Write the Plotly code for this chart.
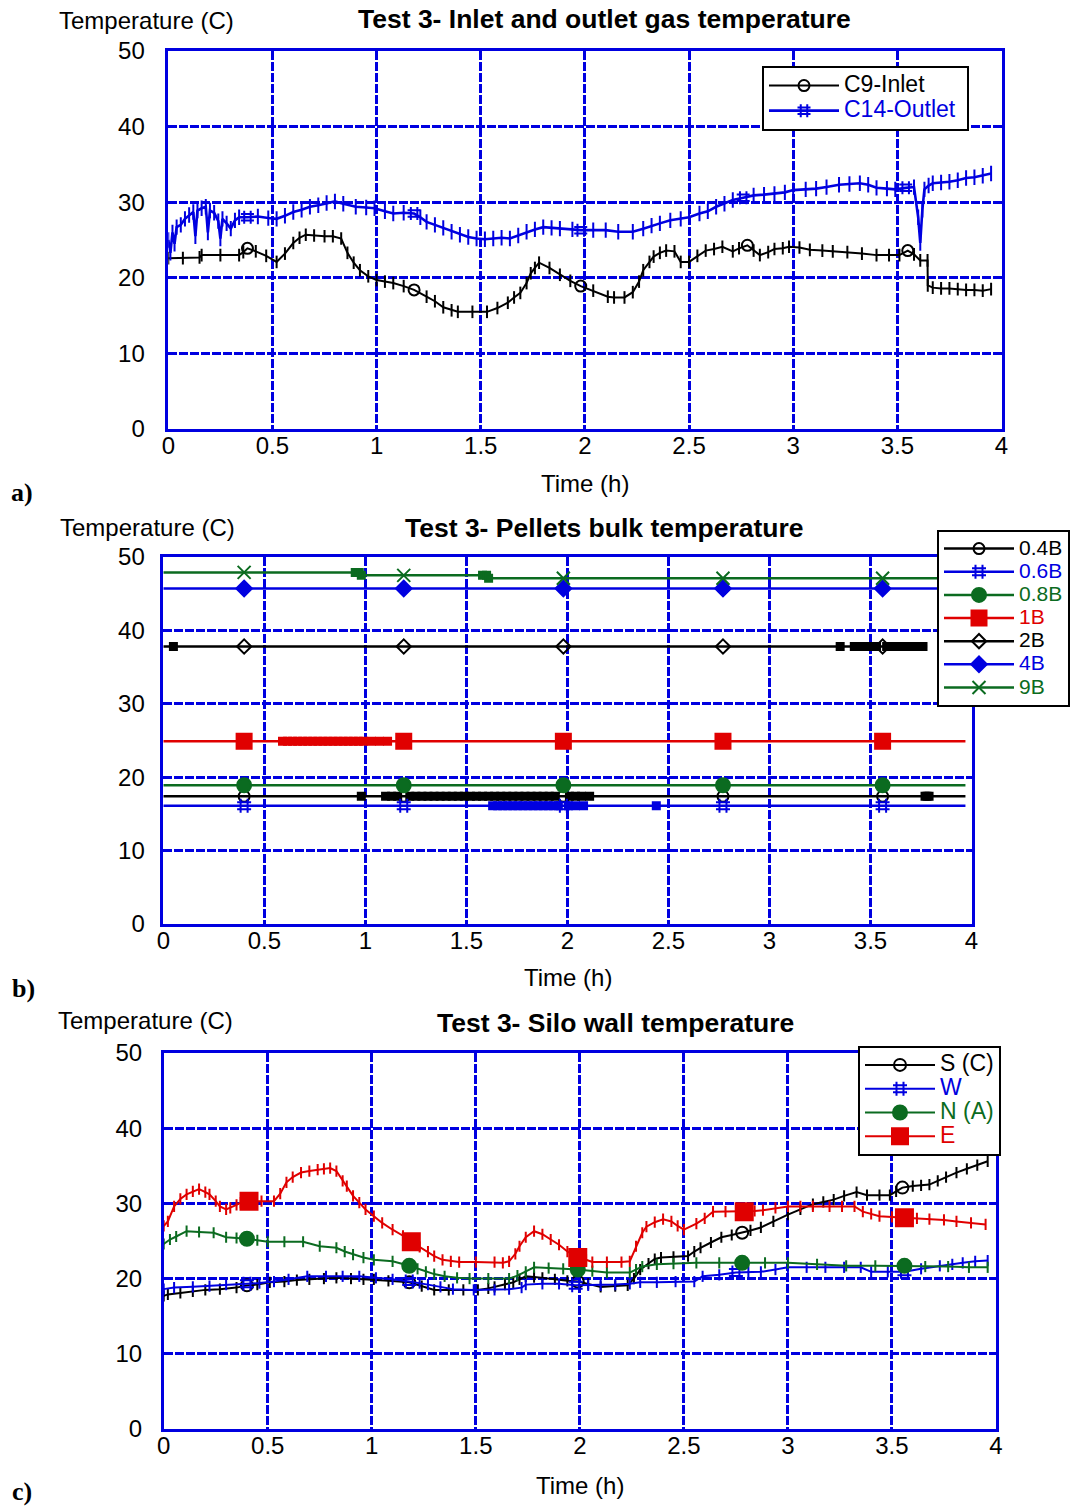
import plotly.graph_objects as go

W, H = 1077, 1508
BLUE = "#0000e0"
BLACK = "#000000"
GREEN = "#0b6b20"
RED = "#e00000"
FONT = "Arial, 'Liberation Sans', Helvetica, sans-serif"
SERIF = "'Times New Roman', 'Liberation Serif', serif"

# ---------------- a) inlet / outlet gas temperature ----------------
C9_T = [0.00, 0.07, 0.15, 0.16, 0.25, 0.34, 0.36, 0.38, 0.42, 0.47,
        0.52, 0.56, 0.60, 0.63, 0.66, 0.70, 0.75, 0.79, 0.83, 0.86,
        0.89, 0.92, 0.96, 1.00, 1.04, 1.08, 1.13, 1.18, 1.24, 1.28,
        1.32, 1.36, 1.39, 1.46, 1.53, 1.58, 1.63, 1.66, 1.69, 1.72,
        1.74, 1.76, 1.78, 1.83, 1.88, 1.93, 1.98, 2.04, 2.11, 2.14,
        2.19, 2.23, 2.26, 2.28, 2.31, 2.33, 2.36, 2.39, 2.43, 2.46,
        2.50, 2.54, 2.58, 2.62, 2.66, 2.71, 2.74, 2.78, 2.81, 2.84,
        2.88, 2.91, 2.95, 2.98, 3.03, 3.08, 3.14, 3.19, 3.26, 3.33,
        3.40, 3.46, 3.51, 3.55, 3.58, 3.61, 3.645, 3.646, 3.67, 3.71,
        3.75, 3.79, 3.83, 3.87, 3.91, 3.95]
C9_V = [22.6, 22.6, 22.7, 23.0, 23.0, 23.0, 23.4, 23.9, 23.5, 22.9,
        22.1, 23.2, 24.6, 25.3, 25.7, 25.6, 25.5, 25.5, 25.2, 23.3,
        22.0, 21.0, 20.2, 19.7, 19.5, 19.3, 18.9, 18.4, 17.5, 16.9,
        16.1, 15.7, 15.5, 15.5, 15.5, 16.0, 16.7, 17.4, 18.0, 19.3,
        20.6, 21.3, 22.0, 21.3, 20.4, 19.6, 18.9, 18.3, 17.5, 17.4,
        17.4, 18.1, 19.5, 21.0, 22.1, 22.8, 23.3, 23.6, 23.5, 22.1,
        22.1, 22.9, 23.6, 23.8, 24.1, 23.5, 23.9, 24.3, 23.6, 23.0,
        23.4, 23.8, 23.9, 24.1, 24.0, 23.7, 23.6, 23.5, 23.4, 23.2,
        23.0, 23.0, 23.0, 23.6, 23.1, 22.3, 22.3, 19.0, 18.7, 18.6,
        18.6, 18.5, 18.4, 18.4, 18.3, 18.5]

C14_T = [0.00, 0.01, 0.02, 0.03, 0.04, 0.06, 0.08, 0.10, 0.12, 0.13,
         0.14, 0.16, 0.18, 0.19, 0.20, 0.22, 0.24, 0.25, 0.26, 0.28,
         0.30, 0.32, 0.34, 0.38, 0.43, 0.48, 0.52, 0.56, 0.60, 0.64,
         0.68, 0.72, 0.76, 0.80, 0.84, 0.90, 0.95, 0.99, 1.04, 1.08,
         1.13, 1.18, 1.21, 1.24, 1.28, 1.32, 1.36, 1.40, 1.44, 1.48,
         1.52, 1.56, 1.60, 1.64, 1.68, 1.72, 1.76, 1.80, 1.84, 1.88,
         1.94, 1.98, 2.04, 2.10, 2.16, 2.23, 2.28, 2.32, 2.36, 2.41,
         2.46, 2.50, 2.55, 2.59, 2.63, 2.67, 2.71, 2.76, 2.81, 2.86,
         2.91, 2.96, 3.00, 3.06, 3.11, 3.16, 3.22, 3.27, 3.32, 3.36,
         3.40, 3.45, 3.49, 3.54, 3.58, 3.60, 3.61, 3.62, 3.63, 3.65,
         3.67, 3.71, 3.75, 3.79, 3.83, 3.87, 3.91, 3.95]
C14_V = [25.0, 23.3, 26.0, 24.5, 26.7, 27.0, 27.8, 28.3, 28.7, 25.5,
         28.9, 29.2, 29.4, 26.0, 28.9, 28.6, 27.5, 25.2, 27.8, 27.2,
         26.5, 27.6, 28.0, 28.0, 28.1, 27.9, 27.8, 28.2, 28.7, 29.0,
         29.4, 29.6, 29.9, 30.1, 29.8, 29.4, 29.3, 29.2, 28.8, 28.5,
         28.6, 28.5, 28.0, 27.4, 27.0, 26.6, 26.1, 25.7, 25.4, 25.2,
         25.1, 25.2, 25.3, 25.2, 25.6, 26.1, 26.4, 26.7, 26.6, 26.5,
         26.4, 26.3, 26.3, 26.3, 26.1, 26.1, 26.5, 26.9, 27.2, 27.6,
         27.8, 28.0, 28.5, 28.8, 29.4, 29.8, 30.3, 30.6, 30.9, 31.0,
         31.1, 31.3, 31.6, 31.7, 31.8, 32.0, 32.3, 32.4, 32.5, 32.3,
         31.9, 31.8, 31.7, 31.9, 32.0, 28.0, 24.6, 29.0, 31.7, 32.2,
         32.5, 32.6, 32.7, 32.9, 33.2, 33.3, 33.5, 33.8]

# ---------------- b) pellets bulk temperature ----------------
B04_T = [0.00, 0.40, 0.98, 1.10, 1.13, 1.16, 1.19, 1.22, 1.25, 1.28,
         1.31, 1.34, 1.37, 1.40, 1.43, 1.46, 1.49, 1.52, 1.55, 1.58,
         1.61, 1.64, 1.67, 1.70, 1.73, 1.76, 1.79, 1.82, 1.85, 1.88,
         1.91, 1.94, 1.98, 2.01, 2.04, 2.07, 2.11, 2.77, 3.56, 3.77,
         3.78, 3.79, 3.97]
B04_V = [17.4, 17.4, 17.4, 17.4, 17.4, 17.4, 17.4, 17.4, 17.4, 17.4,
         17.4, 17.4, 17.4, 17.4, 17.4, 17.4, 17.4, 17.4, 17.4, 17.4,
         17.4, 17.4, 17.4, 17.4, 17.4, 17.4, 17.4, 17.4, 17.4, 17.4,
         17.4, 17.4, 17.4, 17.4, 17.4, 17.4, 17.4, 17.4, 17.4, 17.4,
         17.4, 17.4, 17.4]

B06_T = [0.00, 0.40, 1.19, 1.63, 1.655, 1.68, 1.705, 1.73, 1.755, 1.78,
         1.805, 1.83, 1.855, 1.88, 1.905, 1.93, 1.955, 1.98, 2.005, 2.04,
         2.08, 2.44, 2.77, 3.56, 3.97]
B06_V = [16.1, 16.1, 16.1, 16.1, 16.1, 16.1, 16.1, 16.1, 16.1, 16.1,
         16.1, 16.1, 16.1, 16.1, 16.1, 16.1, 16.1, 16.1, 16.1, 16.1,
         16.1, 16.1, 16.1, 16.1, 16.1]

B08_T = [0.00, 0.40, 1.19, 1.98, 2.77, 3.56, 3.97]
B08_V = [18.9, 18.9, 18.9, 18.9, 18.9, 18.9, 18.9]

B1_T = [0.00, 0.40, 0.59, 0.615, 0.64, 0.665, 0.69, 0.715, 0.74, 0.765,
        0.79, 0.815, 0.84, 0.865, 0.89, 0.915, 0.94, 0.965, 0.99, 1.03,
        1.07, 1.11, 1.19, 1.98, 2.77, 3.56, 3.97]
B1_V = [24.9, 24.9, 24.9, 24.9, 24.9, 24.9, 24.9, 24.9, 24.9, 24.9,
        24.9, 24.9, 24.9, 24.9, 24.9, 24.9, 24.9, 24.9, 24.9, 24.9,
        24.9, 24.9, 24.9, 24.9, 24.9, 24.9, 24.9]

B2_T = [0.00, 0.05, 0.40, 1.19, 1.98, 2.77, 3.35, 3.42, 3.46, 3.49,
        3.51, 3.53, 3.56, 3.58, 3.60, 3.62, 3.64, 3.66, 3.68, 3.70,
        3.72, 3.74, 3.76, 3.78]
B2_V = [37.8, 37.8, 37.8, 37.8, 37.8, 37.8, 37.8, 37.8, 37.8, 37.8,
        37.8, 37.8, 37.8, 37.8, 37.8, 37.8, 37.8, 37.8, 37.8, 37.8,
        37.8, 37.8, 37.8, 37.8]

B4_T = [0.00, 0.40, 1.19, 1.98, 2.77, 3.56, 3.97]
B4_V = [45.7, 45.7, 45.7, 45.7, 45.7, 45.7, 45.7]

B9_T = [0.00, 0.40, 0.95, 0.97, 0.98, 1.19, 1.58, 1.60, 1.61, 1.98,
        2.77, 3.56, 3.97]
B9_V = [47.9, 47.9, 47.9, 47.9, 47.5, 47.5, 47.5, 47.5, 47.1, 47.1,
        47.1, 47.1, 47.1]

# ---------------- c) silo wall temperature ----------------
S_T = [0.00, 0.02, 0.08, 0.14, 0.20, 0.27, 0.35, 0.40, 0.45, 0.51,
       0.58, 0.64, 0.70, 0.77, 0.83, 0.90, 0.96, 1.01, 1.08, 1.18,
       1.24, 1.30, 1.37, 1.44, 1.51, 1.56, 1.59, 1.64, 1.68, 1.71,
       1.74, 1.78, 1.82, 1.88, 1.94, 1.99, 2.04, 2.10, 2.17, 2.23,
       2.26, 2.29, 2.33, 2.36, 2.39, 2.45, 2.52, 2.55, 2.58, 2.63,
       2.68, 2.73, 2.78, 2.82, 2.87, 2.93, 3.00, 3.06, 3.12, 3.17,
       3.22, 3.27, 3.33, 3.38, 3.44, 3.49, 3.52, 3.55, 3.60, 3.64,
       3.68, 3.72, 3.76, 3.81, 3.86, 3.91, 3.96]
S_V = [17.7, 17.9, 18.1, 18.3, 18.5, 18.6, 18.8, 19.1, 19.2, 19.5,
       19.6, 19.8, 19.9, 20.0, 20.1, 20.0, 19.9, 19.9, 19.7, 19.5,
       19.0, 18.5, 18.5, 18.5, 18.5, 18.7, 18.9, 19.2, 19.5, 19.9,
       20.3, 20.2, 20.1, 19.9, 19.7, 19.6, 19.3, 18.9, 19.0, 19.1,
       20.0, 21.2, 22.0, 22.6, 22.8, 22.9, 23.0, 23.6, 24.1, 24.8,
       25.5, 25.8, 26.1, 26.4, 26.8, 27.6, 28.5, 29.2, 29.9, 30.2,
       30.5, 31.0, 31.5, 31.1, 31.1, 31.1, 31.6, 32.1, 32.3, 32.4,
       32.5, 33.0, 33.5, 34.1, 34.6, 35.1, 35.6]

W_T = [0.00, 0.05, 0.14, 0.22, 0.30, 0.40, 0.46, 0.53, 0.60, 0.69,
       0.78, 0.86, 0.94, 1.02, 1.10, 1.18, 1.23, 1.27, 1.33, 1.39,
       1.49, 1.59, 1.66, 1.72, 1.74, 1.82, 1.90, 1.98, 2.04, 2.10,
       2.17, 2.24, 2.29, 2.37, 2.46, 2.55, 2.59, 2.67, 2.75, 2.81,
       2.87, 2.94, 3.00, 3.09, 3.18, 3.27, 3.35, 3.40, 3.48, 3.56,
       3.64, 3.73, 3.79, 3.84, 3.90, 3.96]
W_V = [18.6, 18.8, 18.9, 19.0, 19.2, 19.3, 19.4, 19.6, 19.9, 20.3,
       20.3, 20.3, 20.3, 20.1, 19.9, 19.6, 19.4, 19.2, 18.9, 18.6,
       18.5, 18.5, 18.6, 18.8, 19.2, 19.3, 19.3, 19.1, 19.1, 19.1,
       19.2, 19.3, 19.5, 19.5, 19.6, 19.6, 20.3, 20.5, 20.8, 20.9,
       20.9, 21.2, 21.5, 21.5, 21.5, 21.5, 21.5, 20.9, 20.9, 20.9,
       21.3, 21.7, 21.9, 22.1, 22.3, 22.4]

N_T = [0.00, 0.03, 0.06, 0.11, 0.17, 0.24, 0.30, 0.35, 0.40, 0.45,
       0.50, 0.58, 0.67, 0.75, 0.83, 0.87, 0.91, 0.96, 1.01, 1.10,
       1.18, 1.22, 1.26, 1.30, 1.35, 1.41, 1.47, 1.56, 1.66, 1.70,
       1.74, 1.78, 1.85, 1.92, 1.99, 2.06, 2.13, 2.24, 2.27, 2.30,
       2.37, 2.45, 2.56, 2.67, 2.78, 2.89, 3.00, 3.14, 3.28, 3.42,
       3.56, 3.66, 3.77, 3.87, 3.96]
N_V = [24.6, 25.2, 25.6, 26.3, 26.2, 26.1, 25.5, 25.4, 25.3, 25.1,
       24.9, 24.9, 24.9, 24.3, 24.1, 23.6, 23.2, 22.8, 22.5, 22.3,
       21.7, 21.3, 20.9, 20.6, 20.3, 20.1, 20.0, 20.0, 20.0, 20.4,
       20.9, 21.5, 21.4, 21.3, 21.2, 21.0, 20.8, 20.8, 21.2, 21.6,
       21.9, 22.0, 22.1, 22.1, 22.1, 22.1, 22.1, 21.9, 21.7, 21.7,
       21.7, 21.6, 21.6, 21.5, 21.5]

E_T = [0.00, 0.02, 0.05, 0.08, 0.11, 0.14, 0.17, 0.20, 0.22, 0.25,
       0.27, 0.30, 0.32, 0.35, 0.37, 0.41, 0.47, 0.53, 0.56, 0.59,
       0.62, 0.66, 0.70, 0.74, 0.77, 0.80, 0.83, 0.86, 0.88, 0.91,
       0.94, 0.97, 1.01, 1.05, 1.10, 1.15, 1.19, 1.23, 1.27, 1.30,
       1.34, 1.38, 1.42, 1.50, 1.59, 1.63, 1.66, 1.69, 1.71, 1.74,
       1.78, 1.82, 1.86, 1.90, 1.94, 1.99, 2.03, 2.06, 2.13, 2.20,
       2.24, 2.27, 2.30, 2.32, 2.36, 2.40, 2.44, 2.47, 2.50, 2.56,
       2.60, 2.64, 2.70, 2.79, 2.84, 2.88, 2.94, 3.00, 3.06, 3.12,
       3.20, 3.26, 3.32, 3.36, 3.40, 3.44, 3.50, 3.56, 3.62, 3.68,
       3.75, 3.81, 3.88, 3.95]
E_V = [27.0, 27.6, 29.6, 30.6, 31.2, 31.6, 31.9, 31.5, 31.2, 30.3,
       29.6, 29.2, 29.4, 29.8, 30.1, 30.3, 30.3, 30.3, 31.3, 32.8,
       33.5, 34.1, 34.3, 34.5, 34.6, 34.7, 34.3, 33.0, 32.3, 31.0,
       30.1, 29.2, 28.3, 27.4, 26.5, 25.7, 24.9, 24.2, 23.6, 23.0,
       22.5, 22.3, 22.2, 22.2, 22.2, 22.1, 22.3, 23.3, 24.3, 25.5,
       26.3, 25.9, 25.2, 24.5, 23.6, 22.8, 22.5, 22.2, 22.2, 22.2,
       22.3, 24.3, 26.1, 26.9, 27.5, 27.9, 27.6, 27.0, 26.5, 27.3,
       28.0, 28.9, 28.9, 28.9, 29.0, 29.1, 29.4, 29.6, 29.6, 29.6,
       29.6, 29.6, 29.6, 28.9, 28.6, 28.3, 28.2, 28.1, 28.0, 27.9,
       27.8, 27.6, 27.4, 27.2]

# times at which the large series symbols are plotted
MARK_T_A = [0.38, 1.18, 1.98, 2.78, 3.55]
MARK_T_B = [0.40, 1.19, 1.98, 2.77, 3.56]
MARK_T_C = [0.40, 1.19, 1.98, 2.78, 3.56]

# ---------------- page geometry (pixels) ----------------
PANELS = {
    "a": dict(x0=168.3, x1=1001.5, y0=51, y1=429, standoff=16),
    "b": dict(x0=163.3, x1=971.5, y0=557, y1=924, standoff=11),
    "c": dict(x0=163.7, x1=996.0, y0=1053, y1=1429, standoff=14),
}


def px(x, y):
    return x / W, 1 - y / H


def marker_style(t, big_symbol, big_size, mark_times, tick_symbol, tick_size,
                 bare_ends):
    big = set()
    for m in mark_times:
        big.add(min(range(len(t)), key=lambda i: abs(t[i] - m)))
    symbols, sizes = [], []
    last = len(t) - 1
    for i in range(len(t)):
        if i in big:
            symbols.append(big_symbol)
            sizes.append(big_size)
        else:
            symbols.append(tick_symbol)
            sizes.append(0 if bare_ends and i in (0, last) else tick_size)
    return symbols, sizes


fig = go.Figure()


def add_series(t, v, name, color, symbol, size, marks, ax, legend, lw=2.0,
               tick=8, tick_symbol="line-ns-open", bare_ends=False, label_px=23):
    assert len(t) == len(v), name
    syms, sizes = marker_style(t, symbol, size, marks, tick_symbol, tick,
                               bare_ends)
    fig.add_trace(go.Scatter(
        x=t, y=v, mode="lines+markers", showlegend=False,
        line=dict(color=color, width=lw),
        marker=dict(symbol=syms, size=sizes, color=color, opacity=1,
                    line=dict(color=color, width=2)),
        xaxis="x" + ax, yaxis="y" + ax, hoverinfo="skip"))
    # legend entry for the series
    fig.add_trace(go.Scatter(
        x=[None], y=[None], mode="lines+markers", legend=legend,
        name=f"<span style='color:{color};font-size:{label_px}px'>{name}</span>",
        line=dict(color=color, width=lw),
        marker=dict(symbol=symbol, size=size, color=color, opacity=1,
                    line=dict(color=color, width=2)),
        xaxis="x" + ax, yaxis="y" + ax))


# a)
add_series(C9_T, C9_V, "C9-Inlet", BLACK, "circle-open", 11, MARK_T_A, "", "legend", tick=9)
add_series(C14_T, C14_V, "C14-Outlet&nbsp;", BLUE, "hash-open", 13, MARK_T_A, "", "legend",
           lw=2.6, tick=11)

# b)
pb = dict(lw=2.5, tick=7, tick_symbol="square", bare_ends=True, label_px=21)
add_series(B04_T, B04_V, "0.4B", BLACK, "circle-open", 11, MARK_T_B, "2", "legend2", **pb)
add_series(B06_T, B06_V, "0.6B", BLUE, "hash-open", 14, MARK_T_B, "2", "legend2", **pb)
add_series(B08_T, B08_V, "0.8B", GREEN, "circle", 14, MARK_T_B, "2", "legend2", **pb)
add_series(B1_T, B1_V, "1B", RED, "square", 15, MARK_T_B, "2", "legend2", **pb)
add_series(B2_T, B2_V, "2B", BLACK, "diamond-open", 11, MARK_T_B, "2", "legend2", **pb)
add_series(B4_T, B4_V, "4B", BLUE, "diamond", 12, MARK_T_B, "2", "legend2", **pb)
add_series(B9_T, B9_V, "9B", GREEN, "x-thin-open", 13, MARK_T_B, "2", "legend2", **pb)

# c)
add_series(S_T, S_V, "S (C)", BLACK, "circle-open", 12, MARK_T_C, "3", "legend3")
add_series(W_T, W_V, "W", BLUE, "hash-open", 14, MARK_T_C, "3", "legend3")
add_series(N_T, N_V, "N (A)", GREEN, "circle", 14, MARK_T_C, "3", "legend3")
add_series(E_T, E_V, "E", RED, "square", 17, MARK_T_C, "3", "legend3")

grid_style = dict(
    showgrid=True, gridcolor=BLUE, gridwidth=2.5, griddash="9px,2px",
    showline=True, linecolor=BLUE, linewidth=2.5, mirror=True,
    zeroline=False, ticks="", tickfont=dict(family=FONT, size=24, color=BLACK),
)

layout_axes = {}
for key, suffix in (("a", ""), ("b", "2"), ("c", "3")):
    p = PANELS[key]
    xd = [p["x0"] / W, p["x1"] / W]
    yd = [1 - p["y1"] / H, 1 - p["y0"] / H]
    layout_axes["xaxis" + suffix] = dict(
        grid_style, range=[0, 4], dtick=0.5, tick0=0, domain=xd,
        anchor="y" + suffix, ticklabelstandoff=-7)
    layout_axes["yaxis" + suffix] = dict(
        grid_style, range=[0, 50], dtick=10, tick0=0, domain=yd,
        anchor="x" + suffix, ticklabelstandoff=p["standoff"])


def legend_box(x, y, fs):
    lx, ly = px(x, y)
    return dict(x=lx, y=ly, xanchor="left", yanchor="top", xref="paper",
                yref="paper", bgcolor="white", bordercolor=BLACK,
                borderwidth=2, itemwidth=70,
                font=dict(family=FONT, size=fs, color=BLACK),
                tracegroupgap=0)


annotations = []


def text(x, y, s, size=24, bold=False, family=FONT, xanchor="center"):
    ax, ay = px(x, y)
    annotations.append(dict(
        x=ax, y=ay, xref="paper", yref="paper", showarrow=False,
        text=f"<b>{s}</b>" if bold else s, xanchor=xanchor, yanchor="middle",
        font=dict(family=family, size=size, color=BLACK)))


text(57, 20, "Temperature (C)", xanchor="left")
text(604, 19, "Test 3- Inlet and outlet gas temperature", size=26.5, bold=True)
text(585, 483, "Time (h)")
text(22, 493, "a)", size=26, bold=True, family=SERIF)

text(58, 527, "Temperature (C)", xanchor="left")
text(604, 528, "Test 3- Pellets bulk temperature", size=26.5, bold=True)
text(568, 977, "Time (h)")
text(23, 988, "b)", size=26, bold=True, family=SERIF)

text(56, 1021, "Temperature (C)", xanchor="left")
text(615, 1023, "Test 3- Silo wall temperature", size=26.5, bold=True)
text(580, 1485, "Time (h)")
text(22, 1491, "c)", size=26, bold=True, family=SERIF)

fig.update_layout(
    width=W, height=H,
    margin=dict(l=0, r=0, t=0, b=0, autoexpand=False),
    paper_bgcolor="white", plot_bgcolor="white",
    font=dict(family=FONT, color=BLACK),
    legend=legend_box(762, 66, 17),
    legend2=legend_box(937, 530, 15.5),
    legend3=legend_box(858, 1046, 16),
    annotations=annotations,
    **layout_axes,
)

fig.write_html("out.html", config={"displayModeBar": False})
